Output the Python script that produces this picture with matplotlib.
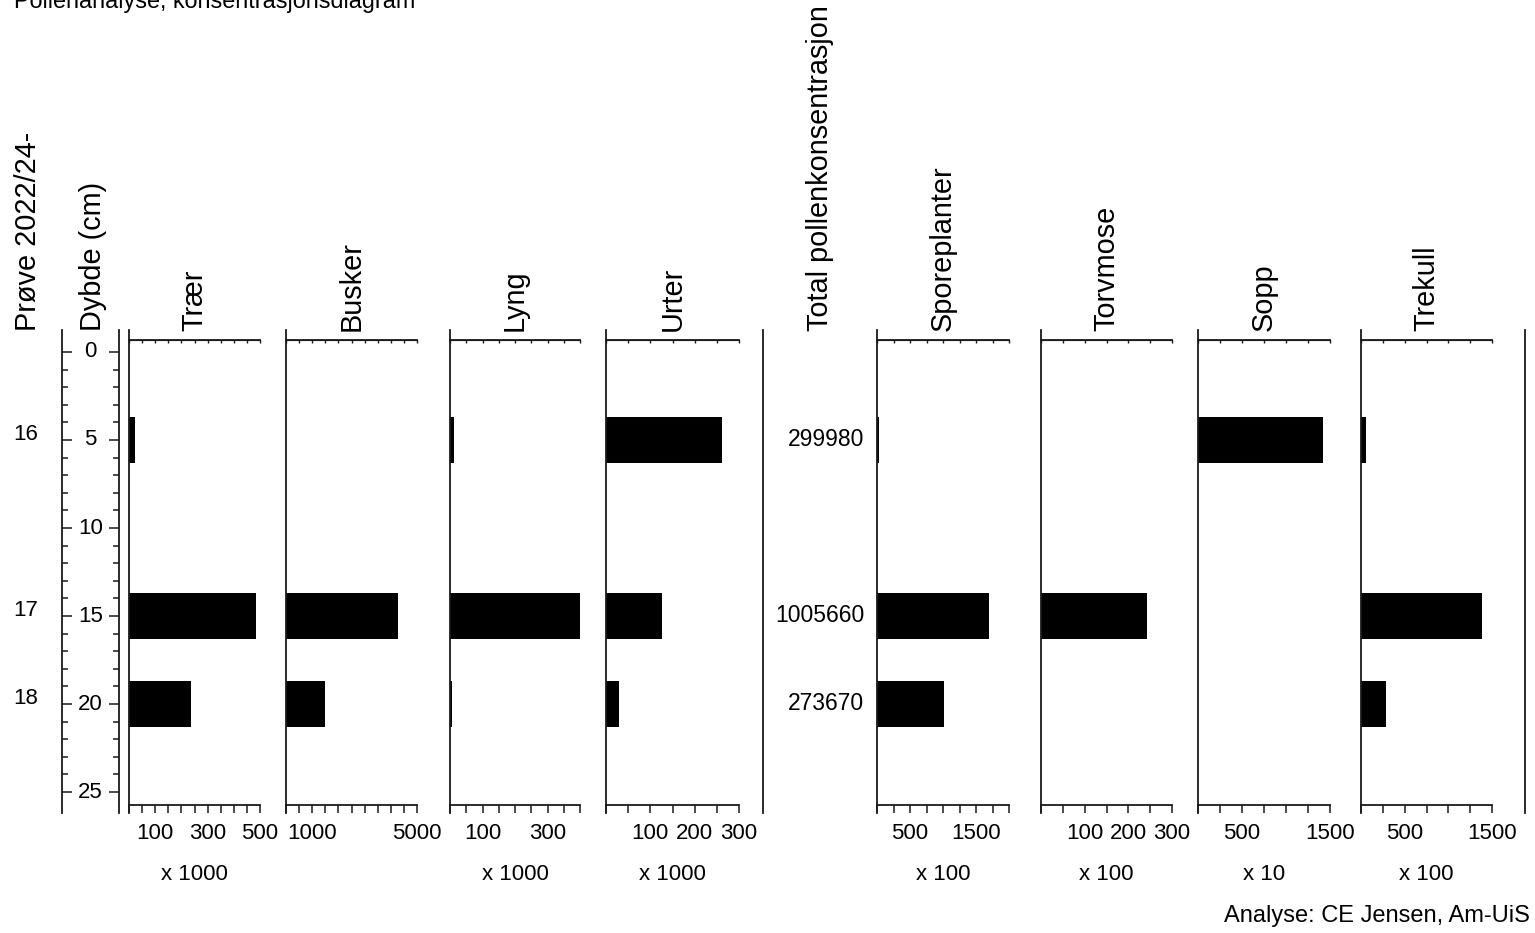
import numpy as np
import matplotlib
matplotlib.use('Agg')
from matplotlib import pyplot as plt
from matplotlib.lines import Line2D

plt.rcParams['font.family'] = ['Liberation Sans', 'DejaVu Sans']

# sample data
depths = [5, 15, 20]
sample_ids = ['16', '17', '18']
traer = [23, 485, 237]
busker = [0, 4275, 1490]
lyng = [12, 400, 5]
urter = [262, 126, 29]
total_pollen = [299980, 1005660, 273670]
sporeplanter = [28, 1695, 1008]
torvmose = [0, 243, 0]
sopp = [1420, 0, 0]
trekull = [57, 1385, 286]

W, H = 1535, 933
LC = '#1a1a1a'
D0, PXCM = 352.0, 17.6   # pixel row of depth 0, pixels per cm

fig = plt.figure(figsize=(W / 100, H / 100), dpi=100)


def depth_at(ypx):
    return (ypx - D0) / PXCM


def px_axes(x0, x1, y0, y1):
    return fig.add_axes([x0 / W, 1 - y1 / H, (x1 - x0) / W, (y1 - y0) / H])


def fig_text(xpx, ypx, s, **kw):
    fig.text(xpx / W, 1 - ypx / H, s, **kw)


def bar_panel(x0, x1, values, xmax, step, shown, title, unit):
    ax = px_axes(x0, x1, 340, 805)
    ax.barh(depths, values, height=2.6, color='black', linewidth=0)
    ax.set_xlim(0, xmax)
    ax.set_ylim(depth_at(805), depth_at(340))
    ticks = np.arange(0, xmax + step / 2, step)
    ax.set_xticks(ticks)
    ax.set_xticklabels([str(int(t)) if t in shown else '' for t in ticks])
    ax.tick_params(axis='x', direction='out', length=6, width=1.1, pad=7,
                   labelsize=16, color=LC)
    ax.set_yticks([])
    for s in ['left', 'right']:
        ax.spines[s].set_visible(False)
    for s in ['top', 'bottom']:
        ax.spines[s].set_color(LC)
        ax.spines[s].set_linewidth(1.3)
    top = ax.secondary_xaxis('top')
    top.set_xticks(ticks)
    top.tick_params(direction='in', length=2.5, width=1, labeltop=False, color=LC)
    top.spines['top'].set_color(LC)
    ax.plot([0, 0], [-8 / 465, 1 + 10 / 465], transform=ax.transAxes,
            clip_on=False, color=LC, lw=1.3)
    if unit:
        ax.set_xlabel(unit, fontsize=16, labelpad=14)
    fig_text((x0 + x1) / 2, 331, title, rotation=90, ha='center', va='bottom',
             fontsize=20.8)
    return ax


# depth scale
dax = px_axes(62, 119, 330, 813)
dax.set_ylim(depth_at(813), depth_at(330))
dax.set_xticks([])
dax.set_yticks(np.arange(0, 26, 5))
dax.set_yticks(np.arange(0, 26, 1), minor=True)
dax.tick_params(axis='y', which='both', left=True, right=True, direction='in',
                labelleft=False, color=LC, width=1.1)
dax.tick_params(axis='y', which='major', length=7.5)
dax.tick_params(axis='y', which='minor', length=4.5)
for s in ['top', 'bottom']:
    dax.spines[s].set_visible(False)
for s in ['left', 'right']:
    dax.spines[s].set_color(LC)
    dax.spines[s].set_linewidth(1.3)
dtr = dax.get_yaxis_transform()
for d in np.arange(0, 26, 5):
    dax.text(0.5, d, str(d), transform=dtr, ha='center', va='center', fontsize=16)
for sid, d in zip(sample_ids, depths):
    dax.text(-0.63, d - 0.3, sid, transform=dtr, ha='center', va='center', fontsize=16)

fig_text(28, 331, 'Prøve 2022/24-', rotation=90, ha='center', va='bottom', fontsize=20.8)
fig_text(93, 331, 'Dybde (cm)', rotation=90, ha='center', va='bottom', fontsize=20.8)

bar_panel(129, 260, traer, 500, 50, [100, 300, 500], 'Trær', 'x 1000')
bar_panel(286, 417, busker, 5000, 500, [1000, 5000], 'Busker', '')
bar_panel(450, 580, lyng, 400, 50, [100, 300], 'Lyng', 'x 1000')
bar_panel(606, 739, urter, 300, 50, [100, 200, 300], 'Urter', 'x 1000')

# total concentration column
tax = px_axes(763, 877, 330, 813)
tax.set_ylim(depth_at(813), depth_at(330))
tax.set_xlim(0, 1)
tax.axis('off')
tax.plot([0, 0], [0, 1], transform=tax.transAxes, color=LC, lw=1.3, clip_on=False)
for v, d in zip(total_pollen, depths):
    tax.text(0.886, d, f'{v:d}', ha='right', va='center', fontsize=16.5)
fig_text(820, 331, 'Total pollenkonsentrasjon', rotation=90, ha='center',
         va='bottom', fontsize=20.8)

bar_panel(877, 1009, sporeplanter, 2000, 250, [500, 1500], 'Sporeplanter', 'x 100')
bar_panel(1041, 1172, torvmose, 300, 50, [100, 200, 300], 'Torvmose', 'x 100')
bar_panel(1198, 1330, sopp, 1500, 250, [500, 1500], 'Sopp', 'x 10')
bar_panel(1361, 1492, trekull, 1500, 250, [500, 1500], 'Trekull', 'x 100')

fig.add_artist(Line2D([1525 / W, 1525 / W], [1 - 813 / H, 1 - 330 / H],
                      color=LC, lw=1.3))

fig_text(14, 8, 'Pollenanalyse, konsentrasjonsdiagram', ha='left',
         va='baseline', fontsize=16.8)
fig_text(1530, 916, 'Analyse: CE Jensen, Am-UiS', ha='right', va='center',
         fontsize=17)

fig.savefig('out.png', dpi=100)
